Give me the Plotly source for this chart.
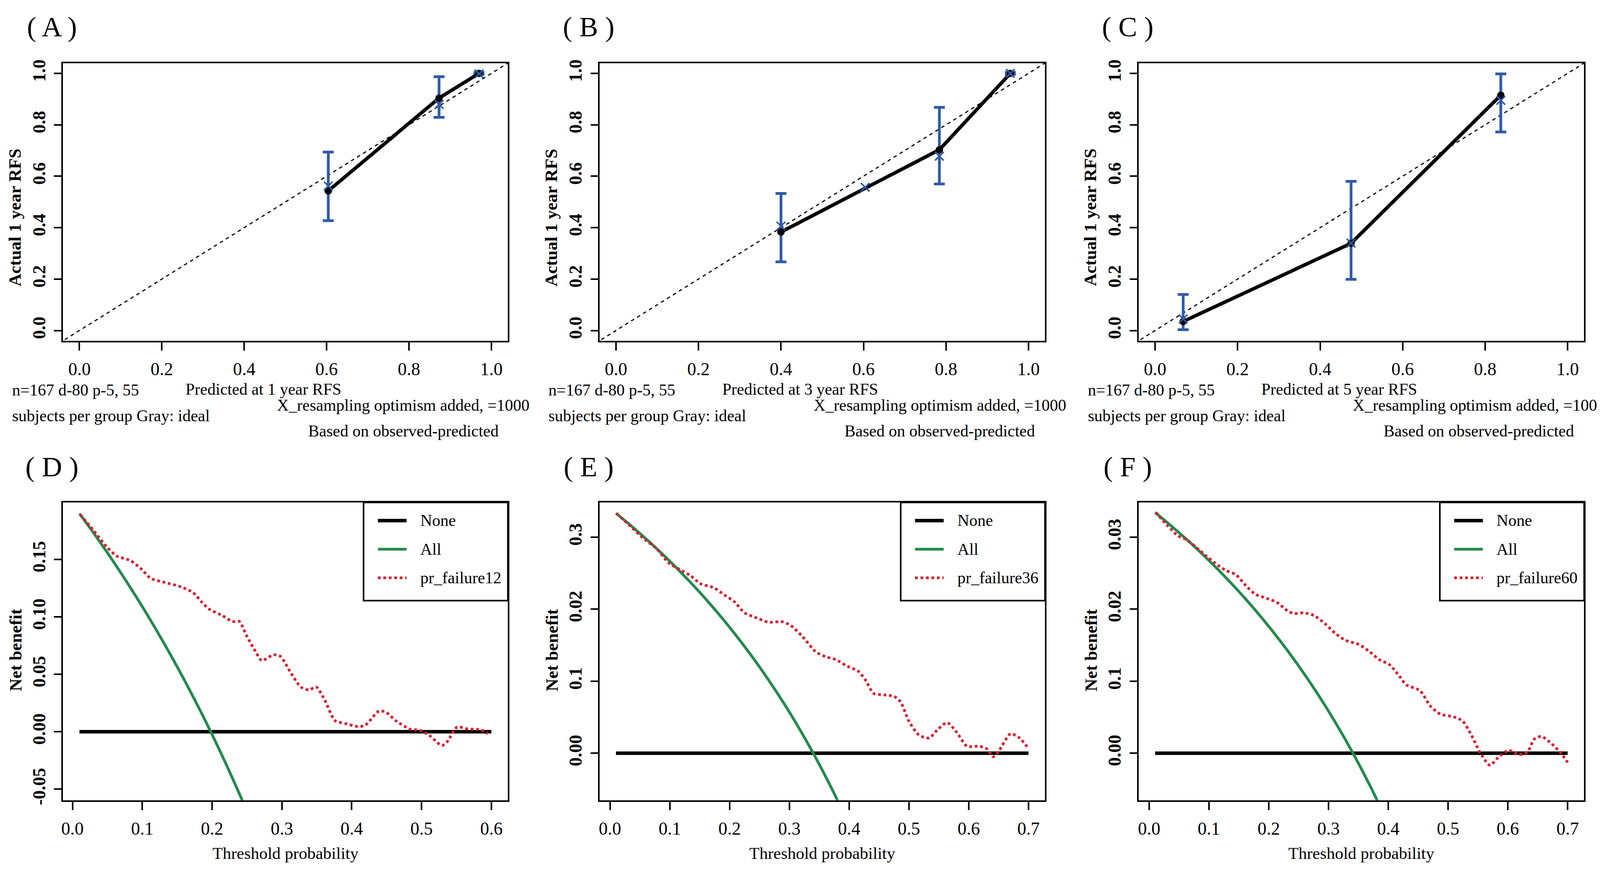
import plotly.graph_objects as go

# reference layout is measured in a 4797 x 2231 frame; the browser viewport is 4096 wide,
# so the figure is drawn 4096 wide and every horizontal position is a paper fraction
REF_W, H = 4797, 2231
W = 4096
FONT = "Liberation Serif"

# ---- calibration data (A, B, C) ----
a_pred = [0.604, 0.873, 0.970]
a_obs = [0.543, 0.904, 1.000]
a_lo = [0.427, 0.829, 0.996]
a_hi = [0.694, 0.987, 1.004]
a_corr_x = [0.604, 0.873, 0.970]
a_corr_y = [0.562, 0.879, 0.998]

b_pred = [0.400, 0.784, 0.956]
b_obs = [0.383, 0.703, 1.000]
b_lo = [0.267, 0.570, 0.996]
b_hi = [0.533, 0.868, 1.004]
b_corr_x = [0.400, 0.604, 0.784, 0.956]
b_corr_y = [0.406, 0.557, 0.678, 1.000]

c_pred = [0.068, 0.475, 0.838]
c_obs = [0.035, 0.339, 0.915]
c_lo = [0.003, 0.199, 0.772]
c_hi = [0.140, 0.580, 0.998]
c_corr_x = [0.068, 0.475, 0.838]
c_corr_y = [0.045, 0.340, 0.895]

ideal = [-0.05, 1.05]
cal_ticks = [0.0, 0.2, 0.4, 0.6, 0.8, 1.0]
cal_ticktext = ["0.0", "0.2", "0.4", "0.6", "0.8", "1.0"]

# ---- decision curve data (D, E, F) ----
d_none_x = [0.01, 0.6]
d_all_x = [0.01, 0.03, 0.05, 0.07, 0.09, 0.11, 0.13, 0.15, 0.17, 0.19, 0.21, 0.23, 0.25]
d_all_y = [0.1899, 0.1732, 0.1558, 0.1376, 0.1187, 0.0989, 0.0782, 0.0565, 0.0337, 0.0099,
           -0.0152, -0.0416, -0.0693]
d_mod_x = [0.011, 0.029, 0.049, 0.063, 0.083, 0.098, 0.112, 0.132, 0.156, 0.173, 0.185, 0.195,
           0.215, 0.229, 0.239, 0.249, 0.263, 0.271, 0.288, 0.298, 0.312, 0.327, 0.339, 0.349,
           0.361, 0.376, 0.390, 0.410, 0.420, 0.439, 0.449, 0.463, 0.483, 0.498, 0.512, 0.529,
           0.537, 0.551, 0.566, 0.585, 0.595]
d_mod_y = [0.189, 0.176, 0.161, 0.153, 0.149, 0.142, 0.1335, 0.130, 0.126, 0.121, 0.113, 0.107,
           0.101, 0.096, 0.096, 0.084, 0.069, 0.062, 0.067, 0.0655, 0.052, 0.039, 0.0364, 0.039,
           0.028, 0.0097, 0.0073, 0.0044, 0.006, 0.018, 0.017, 0.0097, 0.0024, 0.0012, -0.0036,
           -0.012, -0.0085, 0.0041, 0.0024, 0.0017, -0.0017]

e_none_x = [0.01, 0.7]
e_all_x = [0.01, 0.04, 0.07, 0.10, 0.13, 0.16, 0.19, 0.22, 0.25, 0.28, 0.31, 0.34, 0.37, 0.40]
e_all_y = [0.3333, 0.3125, 0.2903, 0.2667, 0.2414, 0.2143, 0.1852, 0.1538, 0.1200, 0.0833,
           0.0435, 0.0, -0.0476, -0.1000]
e_mod_x = [0.011, 0.032, 0.055, 0.078, 0.098, 0.117, 0.134, 0.151, 0.174, 0.191, 0.208, 0.225,
           0.242, 0.265, 0.288, 0.302, 0.322, 0.344, 0.361, 0.378, 0.395, 0.415, 0.427, 0.441,
           0.458, 0.475, 0.486, 0.500, 0.517, 0.534, 0.548, 0.564, 0.580, 0.597, 0.617, 0.631,
           0.641, 0.651, 0.670, 0.685, 0.699]
e_mod_y = [0.333, 0.317, 0.299, 0.284, 0.2645, 0.255, 0.247, 0.2355, 0.2297, 0.220, 0.2104, 0.195,
           0.189, 0.182, 0.1826, 0.1776, 0.162, 0.141, 0.134, 0.130, 0.1216, 0.114, 0.102, 0.083,
           0.081, 0.079, 0.0714, 0.0444, 0.0251, 0.0212, 0.0328, 0.0425, 0.029, 0.0097, 0.0097,
           0.0058, -0.005, 0.0039, 0.027, 0.0212, 0.0077]

f_none_x = [0.01, 0.7]
f_all_x = [0.01, 0.04, 0.07, 0.10, 0.13, 0.16, 0.19, 0.22, 0.25, 0.28, 0.31, 0.34, 0.37, 0.40]
f_all_y = [0.3343, 0.3135, 0.2914, 0.2678, 0.2425, 0.2155, 0.1864, 0.1551, 0.1213, 0.0847,
           0.0449, 0.0015, -0.0460, -0.0983]
f_mod_x = [0.011, 0.031, 0.048, 0.063, 0.080, 0.094, 0.111, 0.128, 0.145, 0.162, 0.177, 0.197,
           0.214, 0.231, 0.242, 0.259, 0.2765, 0.294, 0.311, 0.328, 0.351, 0.368, 0.385, 0.402,
           0.419, 0.430, 0.453, 0.470, 0.487, 0.510, 0.5245, 0.539, 0.553, 0.570, 0.584, 0.601,
           0.619, 0.633, 0.644, 0.656, 0.670, 0.687, 0.700]
f_mod_y = [0.3345, 0.316, 0.302, 0.2965, 0.285, 0.275, 0.2636, 0.254, 0.248, 0.2326, 0.221, 0.215,
           0.2093, 0.198, 0.194, 0.195, 0.191, 0.180, 0.1667, 0.157, 0.151, 0.1415, 0.130, 0.123,
           0.1066, 0.095, 0.087, 0.0659, 0.0543, 0.0504, 0.0446, 0.0252, 0.0019, -0.0167, -0.0058,
           0.0039, -0.0019, 0.0019, 0.0194, 0.0233, 0.0155, 0.0019, -0.0128]

d_yticks = [-0.05, 0.0, 0.05, 0.10, 0.15]
d_yticktext = ["-0.05", "0.00", "0.05", "0.10", "0.15"]
e_yticks = [0.0, 0.1, 0.2, 0.3]
e_yticktext = ["0.00", "0.1", "0.02", "0.3"]
f_yticks = [0.0, 0.1, 0.2, 0.3]
f_yticktext = ["0.00", "0.1", "0.02", "0.03"]
d_xticks = [0.0, 0.1, 0.2, 0.3, 0.4, 0.5, 0.6]
ef_xticks = [0.0, 0.1, 0.2, 0.3, 0.4, 0.5, 0.6, 0.7]

BLUE = "#2F5BA7"
GREEN = "#218A4B"
RED = "#DC1E2D"

# panel boxes in reference pixels (left, right) and rows (top, bottom)
cols = [(175, 1510), (1785, 3122), (3403, 4740)]
top_row = (146, 864)
bot_row = (1282, 2052)


def px(x):
    return x / REF_W


def py(y):
    return 1 - y / H


fig = go.Figure()
annotations = []
shapes = []


def ann(text, x, y, size=42, xanchor="left", bold=False, angle=0):
    annotations.append(dict(text=text, x=px(x), y=py(y), xref="paper", yref="paper",
                            xanchor=xanchor, yanchor="middle", showarrow=False,
                            textangle=angle,
                            font=dict(family=FONT, size=size, color="black",
                                      weight="bold" if bold else "normal")))


def axis(dom, rng, vals, text, anchor, is_y=False):
    d = dict(domain=dom, range=rng, anchor=anchor, tickmode="array", tickvals=vals,
             ticktext=text, showline=True, mirror=True, linecolor="black", linewidth=4,
             ticks="outside", tickwidth=4, tickcolor="black", showgrid=False,
             zeroline=False, fixedrange=True)
    if is_y:
        d.update(tickangle=-90, ticklen=19, ticklabelstandoff=4,
                 tickfont=dict(family=FONT, size=46, color="black", weight="bold"))
    else:
        d.update(ticklen=21, ticklabelstandoff=8, tickfont=dict(family=FONT, size=46, color="black"))
    return d


cal_sets = [
    ("A", a_pred, a_obs, a_lo, a_hi, a_corr_x, a_corr_y, "Predicted at 1 year RFS"),
    ("B", b_pred, b_obs, b_lo, b_hi, b_corr_x, b_corr_y, "Predicted at 3 year RFS"),
    ("C", c_pred, c_obs, c_lo, c_hi, c_corr_x, c_corr_y, "Predicted at 5 year RFS"),
]

layout_axes = {}
for i, (lab, pred, obs, lo, hi, cx, cy, xlab) in enumerate(cal_sets):
    n = i + 1
    xa, ya = ("x", "y") if n == 1 else (f"x{n}", f"y{n}")
    L, R = cols[i]
    fig.add_trace(go.Scatter(x=ideal, y=ideal, mode="lines", xaxis=xa, yaxis=ya,
                             line=dict(color="black", width=3, dash="dash"), showlegend=False))
    fig.add_trace(go.Scatter(
        x=pred, y=obs, mode="markers", xaxis=xa, yaxis=ya, showlegend=False,
        marker=dict(size=1, color=BLUE),
        error_y=dict(type="data", symmetric=False,
                     array=[h - o for h, o in zip(hi, obs)],
                     arrayminus=[o - l for o, l in zip(obs, lo)],
                     color=BLUE, thickness=7, width=14)))
    fig.add_trace(go.Scatter(x=pred, y=obs, mode="lines", xaxis=xa, yaxis=ya, showlegend=False,
                             line=dict(color="black", width=9)))
    fig.add_trace(go.Scatter(x=pred, y=obs, mode="markers", xaxis=xa, yaxis=ya, showlegend=False,
                             marker=dict(size=19, color="black")))
    fig.add_trace(go.Scatter(x=cx, y=cy, mode="markers", xaxis=xa, yaxis=ya, showlegend=False,
                             marker=dict(symbol="x-thin", size=22, color=BLUE,
                                         line=dict(width=4, color=BLUE))))
    layout_axes["xaxis" if n == 1 else f"xaxis{n}"] = axis(
        [px(L), px(R)], [-0.04, 1.04], cal_ticks, cal_ticktext, ya)
    layout_axes["yaxis" if n == 1 else f"yaxis{n}"] = axis(
        [py(top_row[1]), py(top_row[0])], [-0.04, 1.04], cal_ticks, cal_ticktext, xa, True)

    ann(f"( {lab} )", L - 33, 52, size=72, xanchor="center")
    ann("Actual 1 year RFS", L - 145, 545, size=45, xanchor="center", bold=True, angle=-90)
    ann("n=167 d-80 p-5, 55", L - 155, 991)
    ann(xlab, L + 602, 989, xanchor="center")
    ann("subjects per group Gray: ideal", L - 155, 1058)
    ann("X_resampling optimism added, =1000", L + 640, 1031)
    ann("Based on observed-predicted", L + 733, 1097)

dca_sets = [
    ("D", d_none_x, d_all_x, d_all_y, d_mod_x, d_mod_y, "pr_failure12",
     [-0.0136, 0.6236], [-0.0596, 0.1996], d_xticks, d_yticks, d_yticktext),
    ("E", e_none_x, e_all_x, e_all_y, e_mod_x, e_mod_y, "pr_failure36",
     [-0.0176, 0.7276], [-0.0653, 0.3483], ef_xticks, e_yticks, e_yticktext),
    ("F", f_none_x, f_all_x, f_all_y, f_mod_x, f_mod_y, "pr_failure60",
     [-0.0176, 0.7276], [-0.0653, 0.3483], ef_xticks, f_yticks, f_yticktext),
]

leg_styles = [dict(color="black", width=9), dict(color=GREEN, width=7),
              dict(color=RED, width=7, dash="dot")]

for i, (lab, nx, ax_, ay_, mx, my, mname, xr, yr, xt, yt, ytt) in enumerate(dca_sets):
    n = i + 4
    xa, ya = f"x{n}", f"y{n}"
    L, R = cols[i]
    fig.add_trace(go.Scatter(x=nx, y=[0] * len(nx), mode="lines", name="None", xaxis=xa,
                             yaxis=ya, showlegend=False, line=leg_styles[0]))
    fig.add_trace(go.Scatter(x=ax_, y=ay_, mode="lines", name="All", xaxis=xa, yaxis=ya,
                             showlegend=False, line=dict(shape="spline", **leg_styles[1])))
    fig.add_trace(go.Scatter(x=mx, y=my, mode="lines", name=mname, xaxis=xa, yaxis=ya,
                             showlegend=False,
                             line=dict(shape="spline", smoothing=0.7, **leg_styles[2])))
    xt_text = [f"{v:.1f}" for v in xt]
    layout_axes[f"xaxis{n}"] = axis([px(L), px(R)], xr, xt, xt_text, ya)
    layout_axes[f"yaxis{n}"] = axis([py(bot_row[1]), py(bot_row[0])], yr, yt, ytt, xa, True)

    # legend box drawn R-style in the top-right corner of the panel
    shapes.append(dict(type="rect", xref="paper", yref="paper", x0=px(R - 433), x1=px(R),
                       y0=py(1536), y1=py(bot_row[0]), line=dict(color="black", width=4),
                       fillcolor="white", layer="above"))
    for k, (name, yy) in enumerate(zip(["None", "All", mname], [1329, 1403, 1477])):
        shapes.append(dict(type="line", xref="paper", yref="paper", x0=px(R - 390),
                           x1=px(R - 304), y0=py(yy), y1=py(yy), line=leg_styles[k],
                           layer="above"))
        ann(name, R - 265, yy, size=42)

    ann(f"( {lab} )", L - 33, 1190, size=72, xanchor="center")
    ann("Net benefit", L - 142, 1664, size=45, xanchor="center", bold=True, angle=-90)
    ann("Threshold probability", (L + R) / 2, 2189, size=43, xanchor="center")

fig.update_layout(
    width=W, height=H,
    margin=dict(l=0, r=0, t=0, b=0),
    paper_bgcolor="white", plot_bgcolor="white",
    showlegend=False,
    annotations=annotations,
    shapes=shapes,
    **layout_axes,
)

fig.write_html("out.html")
